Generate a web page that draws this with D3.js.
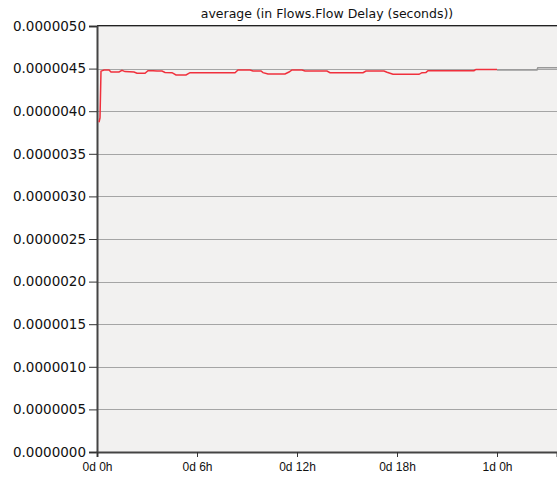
<!DOCTYPE html>
<meta charset="utf-8">
<script src="https://d3js.org/d3.v7.min.js"></script>
<style>
  body { margin: 0; background: #fff; }
  svg text { font-family: "DejaVu Sans", sans-serif; fill: #111; }
</style>
<body>
<svg id="chart" width="557" height="479"></svg>
<script>
// hours since start, and average flow delay (seconds)
var hours = [0.12, 0.18, 0.24, 0.42, 0.72, 0.84, 1.32, 1.5, 1.68, 2.22, 2.4, 2.88, 3.06, 3.36, 3.6, 3.9,
  4.08, 4.5, 4.74, 5.34, 5.58, 8.28, 8.46, 9.18, 9.36, 9.84, 9.96, 10.26, 11.28, 11.52, 11.7, 12.3,
  12.48, 13.8, 13.98, 15.96, 16.14, 17.22, 17.4, 17.76, 19.32, 19.5, 19.74, 19.86, 22.62, 22.74, 24.0];
var delay = [3.87, 3.92, 4.47, 4.484, 4.484, 4.46, 4.46, 4.48, 4.465, 4.46, 4.445, 4.445, 4.475, 4.475, 4.472, 4.472,
  4.455, 4.452, 4.425, 4.425, 4.452, 4.452, 4.484, 4.484, 4.472, 4.472, 4.452, 4.437, 4.437, 4.46, 4.484, 4.484,
  4.472, 4.472, 4.452, 4.452, 4.472, 4.472, 4.458, 4.433, 4.433, 4.452, 4.455, 4.475, 4.475, 4.49, 4.49];
// grey continuation after the red trace
var greyHours = [24.0, 26.4, 26.45, 27.6];
var greyDelay = [4.485, 4.485, 4.51, 4.51];

var yTicks = [0, 0.5, 1, 1.5, 2, 2.5, 3, 3.5, 4, 4.5, 5];
var xTicks = [0, 6, 12, 18, 24];
var xTickLabels = ["0d 0h", "0d 6h", "0d 12h", "0d 18h", "1d 0h"];
var title = "average (in Flows.Flow Delay (seconds))";

var pl = 97, pr = 557, pt = 25, pb = 452;
var svg = d3.select("#chart");

var x = d3.scaleLinear().domain([0, 27.6]).range([pl, pr]);
var y = d3.scaleLinear().domain([0, 5]).range([pb, pt + 1]);

// plot background
svg.append("rect")
  .attr("x", pl).attr("y", pt)
  .attr("width", pr - pl).attr("height", pb - pt)
  .attr("fill", "#f2f1f0");

// gridlines
svg.append("g").selectAll("line")
  .data(yTicks.slice(1))
  .enter().append("line")
  .attr("x1", pl).attr("x2", pr)
  .attr("y1", function(d) { return Math.round(y(d)) + 0.5; })
  .attr("y2", function(d) { return Math.round(y(d)) + 0.5; })
  .attr("stroke", "#a5a5a5");

// top frame
svg.append("line")
  .attr("x1", pl).attr("x2", pr)
  .attr("y1", pt + 0.5).attr("y2", pt + 0.5)
  .attr("stroke", "#222");

function fmt(d) { return (d * 1e-6).toFixed(7); }

var yAxis = svg.append("g")
  .attr("transform", "translate(" + pl + ",0)")
  .call(d3.axisLeft(y).tickValues(yTicks).tickFormat(fmt).tickSize(8).tickPadding(3));
yAxis.select(".domain").attr("stroke", "#444").attr("stroke-width", 2);
yAxis.selectAll(".tick line").attr("stroke", "#333");
yAxis.selectAll("text").style("font-size", "13.5px").attr("fill", "#111");

var xAxis = svg.append("g")
  .attr("transform", "translate(0," + pb + ")")
  .call(d3.axisBottom(x).tickValues(xTicks)
    .tickFormat(function(d, i) { return xTickLabels[i]; })
    .tickSize(5).tickPadding(5));
xAxis.select(".domain").attr("stroke", "#444").attr("stroke-width", 2);
xAxis.selectAll(".tick line").attr("stroke", "#333");
xAxis.selectAll("text").style("font-family", "'Liberation Sans', sans-serif")
  .style("font-size", "12px").attr("fill", "#111");

var line = d3.line()
  .x(function(d) { return x(d[0]); })
  .y(function(d) { return y(d[1]); });

svg.append("path")
  .datum(d3.zip(greyHours, greyDelay))
  .attr("d", line)
  .attr("fill", "none")
  .attr("stroke", "#999")
  .attr("stroke-width", 1.5);

svg.append("path")
  .datum(d3.zip(hours, delay))
  .attr("d", line)
  .attr("fill", "none")
  .attr("stroke", "#f0303c")
  .attr("stroke-width", 1.5);

svg.append("text")
  .attr("x", (pl + pr) / 2)
  .attr("y", 18)
  .attr("text-anchor", "middle")
  .style("font-size", "12.5px")
  .text(title);
</script>
</body>
